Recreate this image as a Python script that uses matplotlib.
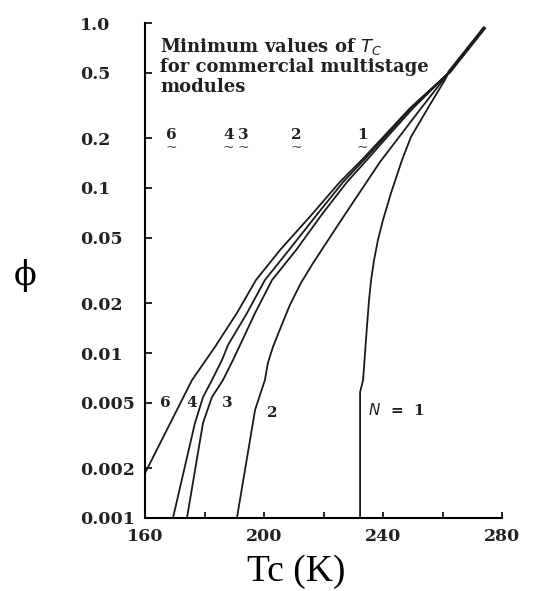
import numpy as np
import matplotlib.pyplot as plt
from matplotlib.ticker import FixedLocator, NullFormatter, NullLocator

# curves: N = 1 ... 6 stages (Tc in K, phi)
tc_1 = [232.3, 232.3, 233.3, 234.6, 235.3, 236.0, 237.0, 238.3, 240.0, 242.7, 246.4, 249.4, 256.1, 260.8, 262.0]
phi_1 = [0.001, 0.0058, 0.00685, 0.0144, 0.0209, 0.0277, 0.0367, 0.0484, 0.064, 0.0933, 0.148, 0.204, 0.327, 0.452, 0.497]

tc_2 = [190.9, 197.0, 200.3, 201.3, 203.0, 205.7, 208.7, 212.4, 216.5, 226.2, 239.0, 252.1, 262.0]
phi_2 = [0.001, 0.00452, 0.00685, 0.00869, 0.01087, 0.0144, 0.01954, 0.02655, 0.0351, 0.0649, 0.1439, 0.293, 0.497]

tc_3 = [174.1, 179.5, 182.5, 186.2, 189.6, 197.0, 202.7, 210.8, 219.8, 227.9, 234.6, 242.0, 250.1, 262.0]
phi_3 = [0.001, 0.00377, 0.0054, 0.00685, 0.00908, 0.01747, 0.02768, 0.0421, 0.0705, 0.1087, 0.148, 0.2096, 0.305, 0.497]

tc_4 = [169.4, 176.8, 179.5, 182.5, 185.9, 187.9, 194.3, 200.3, 208.4, 218.2, 226.6, 233.6, 241.3, 249.4, 262.0]
phi_4 = [0.001, 0.00377, 0.0054, 0.00685, 0.00908, 0.01117, 0.01747, 0.02768, 0.0421, 0.0705, 0.1087, 0.148, 0.2096, 0.305, 0.497]

tc_6 = [160.0, 175.8, 183.5, 190.9, 197.3, 205.4, 216.5, 225.5, 232.9, 240.7, 249.1, 262.0]
phi_6 = [0.00187, 0.00685, 0.01087, 0.01747, 0.02768, 0.0421, 0.0705, 0.1087, 0.148, 0.2096, 0.305, 0.497]

# common part above the meeting point
tc_top = [262.0, 274.3]
phi_top = [0.497, 0.946]

# minimum Tc of commercial modules
min_labels = ['6', '4', '3', '2', '1']
min_tc = [169.0, 188.0, 193.0, 211.0, 233.0]

y_ticks = [0.001, 0.002, 0.005, 0.01, 0.02, 0.05, 0.1, 0.2, 0.5, 1.0]
y_ticklabels = ['0.001', '0.002', '0.005', '0.01', '0.02', '0.05', '0.1', '0.2', '0.5', '1.0']
x_ticks = [160, 200, 240, 280]
x_minor = [180, 220, 260]

fig = plt.figure(figsize=(5.36, 5.91), dpi=100)
ax = fig.add_axes([145/536, 73/591, 357/536, 495/591])

lc = '#1a1a1a'
for tc, phi in [(tc_1, phi_1), (tc_2, phi_2), (tc_3, phi_3), (tc_4, phi_4), (tc_6, phi_6)]:
    ax.plot(tc, phi, color=lc, lw=1.3)
ax.plot(tc_top, phi_top, color=lc, lw=2.6, solid_capstyle='butt')

ax.set_yscale('log')
ax.set_xlim(160, 280)
ax.set_ylim(0.001, 1.0)

ax.spines['top'].set_visible(False)
ax.spines['right'].set_visible(False)
ax.spines['left'].set_linewidth(1.5)
ax.spines['bottom'].set_linewidth(1.5)

ax.yaxis.set_major_locator(FixedLocator(y_ticks))
ax.yaxis.set_minor_locator(NullLocator())
ax.yaxis.set_minor_formatter(NullFormatter())
ax.set_yticklabels(y_ticklabels)
ax.set_xticks(x_ticks)
ax.set_xticks(x_minor, minor=True)

tick_font = dict(family='DejaVu Serif', weight='bold', size=12.5)
ax.tick_params(axis='y', direction='in', length=5, width=1.2, pad=47)
ax.tick_params(axis='x', direction='in', length=4, width=1.2, pad=7)
ax.tick_params(axis='x', which='minor', direction='in', length=4, width=1.2)
for lab in ax.get_yticklabels():
    lab.set_horizontalalignment('left')
    lab.set_fontproperties(tick_font)
    lab.set_color('#222222')
for lab in ax.get_xticklabels():
    lab.set_fontproperties(tick_font)
    lab.set_color('#222222')

txt = dict(family='DejaVu Serif', weight='bold', size=11, color='#222222')
ax.text(0.042, 0.973, 'Minimum values of $T_C$\nfor commercial multistage\nmodules',
        transform=ax.transAxes, ha='left', va='top', linespacing=1.08,
        family='DejaVu Serif', weight='bold', size=13, color='#222222')

for lab, t in zip(min_labels, min_tc):
    ax.text(t, 0.21, lab, ha='center', va='center', **txt)
    ax.text(t, 0.174, '~', ha='center', va='center', family='DejaVu Serif', size=10, color='#222222')

ax.text(166.7, 0.005, '6', ha='center', va='center', **txt)
ax.text(175.8, 0.005, '4', ha='center', va='center', **txt)
ax.text(187.6, 0.005, '3', ha='center', va='center', **txt)
ax.text(202.7, 0.0043, '2', ha='center', va='center', **txt)
ax.text(235.0, 0.0045, '$N$  =  1', ha='left', va='center', **txt)

fig.text(296/536, 1 - 572/591, 'Tc (K)', family='Liberation Serif', size=27,
         ha='center', va='center')
fig.text(25/536, 1 - 275/591, 'ϕ', family='DejaVu Serif', size=24, ha='center', va='center')

fig.savefig('out.png', dpi=100)
